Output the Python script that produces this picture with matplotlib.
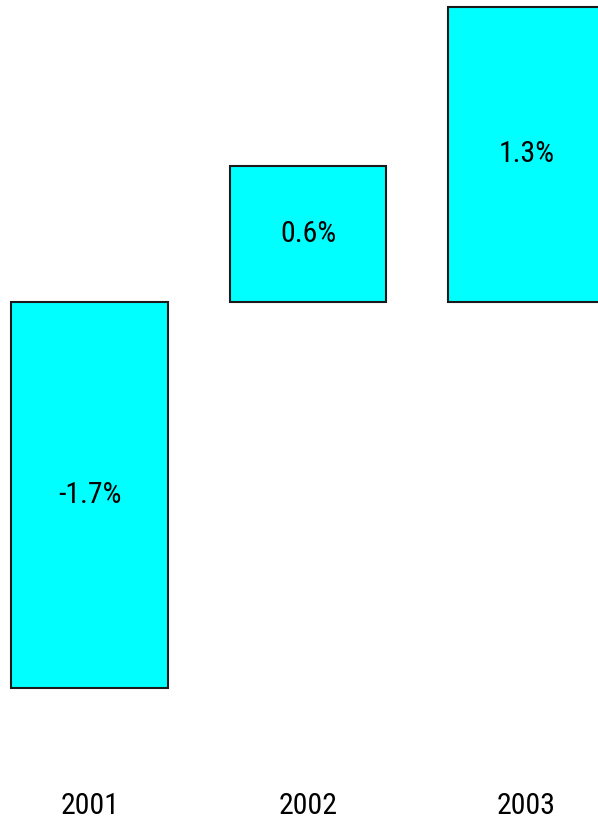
import matplotlib
matplotlib.use("Agg")
import matplotlib.pyplot as plt
from matplotlib import font_manager

years = ["2001", "2002", "2003"]
growth = [-1.7, 0.6, 1.3]
value_labels = ["-1.7%", "0.6%", "1.3%"]

# Prefer a narrow sans face for the labels
label_font = {"family": ["Roboto", "DejaVu Sans"]}
fonts = font_manager.fontManager.ttflist
names = {f.name for f in fonts}
for fam in ["Liberation Sans Narrow", "Roboto Condensed", "Open Sans Condensed",
            "DejaVu Sans Condensed"]:
    if fam in names:
        label_font = {"family": [fam, "DejaVu Sans"]}
        break
else:
    for f in fonts:
        if (str(f.stretch) in ("condensed", "semi-condensed")
                and f.style == "normal" and f.weight in (400, "normal")):
            label_font = {"family": [f.name, "DejaVu Sans"], "stretch": f.stretch}
            break

fig = plt.figure(figsize=(5.98, 8.21), dpi=100)
ax = fig.add_axes([0, 0, 1, 1])

x = list(range(len(years)))
ax.bar(x, growth, width=0.715, bottom=0, color="#00ffff",
       edgecolor="#1a1a1a", linewidth=1.5)

for xi, v, lab in zip(x, growth, value_labels):
    ax.text(xi, v / 2, lab, ha="center", va="center", fontsize=21.5,
            color="black", **label_font)

for xi, y in zip(x, years):
    ax.text(xi, -2.22, y, ha="center", va="center", fontsize=21.5,
            color="black", **label_font)

ax.set_xlim(-0.41, 2.327)
ax.set_ylim(-2.286, 1.33)
ax.axis("off")

fig.savefig("out.png", dpi=100, facecolor="white")
